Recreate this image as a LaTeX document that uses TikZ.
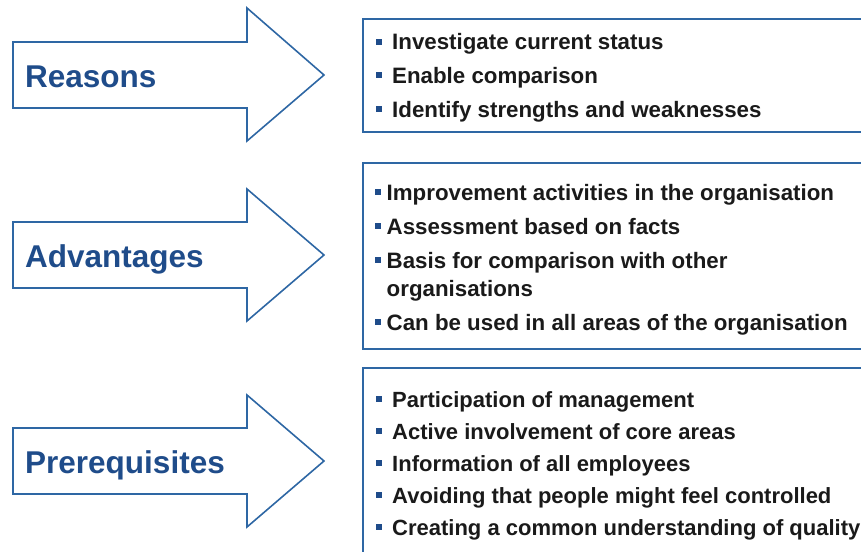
\documentclass[tikz,border=0pt]{standalone}
\usepackage{fontspec}
\setmainfont{Liberation Sans}
\definecolor{steelblue}{RGB}{46, 103, 164}
\definecolor{navyblue}{RGB}{31, 76, 138}
\definecolor{inkgray}{RGB}{26, 26, 26}
\newcommand{\sqbullet}{\textcolor{navyblue}{\rule[5.5pt]{5.5pt}{5.5pt}}}

\begin{document}
\begin{tikzpicture}[x=1pt, y=-1pt,
    outline/.style={draw=steelblue, line width=1.6pt, line join=miter},
    heading/.style={anchor=base west, inner sep=0pt, text=navyblue,
                    font=\bfseries\fontsize{31.5}{36}\selectfont},
    point/.style={anchor=base west, inner sep=0pt, text=inkgray,
                  font=\bfseries\fontsize{22.3}{26}\selectfont},
    tightpoint/.style={point, font=\bfseries\fontsize{22}{26}\selectfont}]
    % Frame to fix the page
    \useasboundingbox (0, 0) rectangle (861, 551);
    \clip             (0, 0) rectangle (861, 551);
    % Reasons
    \draw[outline] ( 13,  42) -- (247,  42) -- (247,   8) -- (324,  75)
                -- (247, 141) -- (247, 108) -- ( 13, 108) -- cycle;
    \node[heading] (reasons) at ( 25,  87) {Reasons};
    \draw[outline] (363,  19) rectangle (880, 132);
    \node[point] (rea1) at (376,  50) {\sqbullet\hspace{10.5pt}Investigate current status};
    \node[point] (rea2) at (376,  83) {\sqbullet\hspace{10.5pt}Enable comparison};
    \node[point] (rea3) at (376, 117) {\sqbullet\hspace{10.5pt}Identify strengths and weaknesses};
    % Advantages
    \draw[outline] ( 13, 222) -- (247, 222) -- (247, 189) -- (324, 255)
                -- (247, 321) -- (247, 288) -- ( 13, 288) -- cycle;
    \node[heading] (advantages) at ( 25, 267) {Advantages};
    \draw[outline] (363, 163) rectangle (880, 349);
    \node[point] (adv1) at (375, 200) {\sqbullet\hspace{6pt}Improvement activities in the organisation};
    \node[point] (adv2) at (375, 234) {\sqbullet\hspace{6pt}Assessment based on facts};
    \node[point] (adv3) at (375, 268) {\sqbullet\hspace{6pt}Basis for comparison with other};
    \node[point] (adv3b) at (386.5, 296) {organisations};
    \node[point] (adv4) at (375, 330) {\sqbullet\hspace{6pt}Can be used in all areas of the organisation};
    % Prerequisites
    \draw[outline] ( 13, 428) -- (247, 428) -- (247, 395) -- (324, 461)
                -- (247, 527) -- (247, 494) -- ( 13, 494) -- cycle;
    \node[heading] (prerequisites) at ( 25, 473) {Prerequisites};
    \draw[outline] (363, 368) rectangle (880, 580);
    \node[tightpoint] (pre1) at (376, 407) {\sqbullet\hspace{10.5pt}Participation of management};
    \node[tightpoint] (pre2) at (376, 439) {\sqbullet\hspace{10.5pt}Active involvement of core areas};
    \node[tightpoint] (pre3) at (376, 471) {\sqbullet\hspace{10.5pt}Information of all employees};
    \node[tightpoint] (pre4) at (376, 503) {\sqbullet\hspace{10.5pt}Avoiding that people might feel controlled};
    \node[tightpoint] (pre5) at (376, 535) {\sqbullet\hspace{10.5pt}Creating a common understanding of quality};
\end{tikzpicture}
\end{document}
